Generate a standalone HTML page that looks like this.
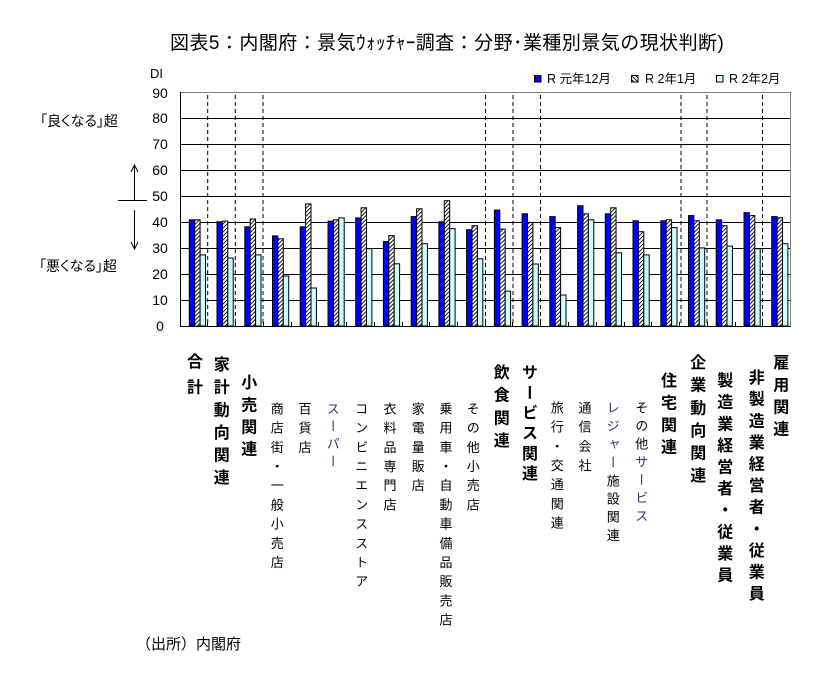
<!DOCTYPE html>
<html><head><meta charset="utf-8">
<style>
html,body{margin:0;padding:0;background:#fff;}
body{width:819px;height:683px;position:relative;overflow:hidden;font-family:"Liberation Sans","Noto Sans CJK JP",sans-serif;color:#000;}
.a{position:absolute;white-space:nowrap;}
.v{position:absolute;writing-mode:vertical-rl;font-family:"Noto Sans CJK JP","Liberation Sans",sans-serif;line-height:1;white-space:nowrap;}
.b{font-size:16px;font-weight:bold;letter-spacing:6.2px;}
.n{font-size:13px;letter-spacing:6.2px;}
.p{color:#4e2478;}
.yt{position:absolute;width:30px;left:145px;text-align:center;font-size:14px;line-height:14px;height:14px;}
</style></head><body>

<div class="a" style="left:170px;top:34px;font-size:19px;line-height:20px;letter-spacing:0.45px;font-family:'Liberation Sans','Noto Sans CJK JP',sans-serif;">図表5：内閣府：景気ｳｫｯﾁｬｰ調査：分野･業種別景気の現状判断)</div>

<div class="a" style="left:150px;top:66px;font-size:13px;line-height:15px;">DI</div>

<div class="a" style="left:40px;top:113px;font-size:14px;line-height:16px;font-feature-settings:'palt';">「良くなる」超</div>
<div class="a" style="left:39px;top:258px;font-size:14px;line-height:16px;font-feature-settings:'palt';">「悪くなる」超</div>

<div class="a" style="left:136px;top:636px;font-size:15px;line-height:17px;">（出所）内閣府</div>

<div class="a" style="left:547px;top:72px;font-size:12.5px;line-height:15px;">R 元年12月</div>
<div class="a" style="left:645px;top:72px;font-size:12.5px;line-height:15px;">R 2年1月</div>
<div class="a" style="left:729px;top:72px;font-size:12.5px;line-height:15px;">R 2年2月</div>

<div class="yt" style="top:85.5px;">90</div>
<div class="yt" style="top:111px;">80</div>
<div class="yt" style="top:137px;">70</div>
<div class="yt" style="top:163px;">60</div>
<div class="yt" style="top:189px;">50</div>
<div class="yt" style="top:215px;">40</div>
<div class="yt" style="top:241px;">30</div>
<div class="yt" style="top:267px;">20</div>
<div class="yt" style="top:293px;">10</div>
<div class="yt" style="top:319px;">0</div>

<svg width="819" height="683" style="position:absolute;left:0;top:0;" xmlns="http://www.w3.org/2000/svg">
<defs>
<pattern id="h" patternUnits="userSpaceOnUse" width="4" height="4">
<rect width="4" height="4" fill="#fff"/>
<path d="M-1,-1 L5,5 M-1,3 L1,5 M3,-1 L5,1" stroke="#000" stroke-width="0.9"/>
</pattern>
</defs>
<g stroke="#000" stroke-width="1">
<line x1="181" y1="118.5" x2="790" y2="118.5"/>
<line x1="181" y1="144.5" x2="790" y2="144.5"/>
<line x1="181" y1="170.5" x2="790" y2="170.5"/>
<line x1="181" y1="196.5" x2="790" y2="196.5"/>
<line x1="181" y1="222.5" x2="790" y2="222.5"/>
<line x1="181" y1="248.5" x2="790" y2="248.5"/>
<line x1="181" y1="274.5" x2="790" y2="274.5"/>
<line x1="181" y1="300.5" x2="790" y2="300.5"/>
</g>
<g stroke="#808080" stroke-width="1">
<line x1="180" y1="92.5" x2="791" y2="92.5"/>
<line x1="790.5" y1="92" x2="790.5" y2="327"/>
</g>
<g stroke="#000" stroke-width="1" stroke-dasharray="4,3">
<line x1="207.7" y1="95" x2="207.7" y2="326"/>
<line x1="235.3" y1="95" x2="235.3" y2="326"/>
<line x1="263" y1="95" x2="263" y2="326"/>
<line x1="485.5" y1="95" x2="485.5" y2="326"/>
<line x1="513" y1="95" x2="513" y2="326"/>
<line x1="540.5" y1="95" x2="540.5" y2="326"/>
<line x1="681" y1="95" x2="681" y2="326"/>
<line x1="707" y1="95" x2="707" y2="326"/>
<line x1="762.5" y1="95" x2="762.5" y2="326"/>
</g>
<g transform="translate(0 326) scale(1 -1)" stroke="#000" stroke-width="1">
<g transform="translate(189.3 0)"><rect x="0" y="0" width="5.4" height="106.2" fill="#0000ff"/><rect x="5.4" y="0" width="5.4" height="106.2" fill="url(#h)"/><rect x="10.8" y="0" width="5.4" height="71.1" fill="#ccffff"/></g>
<g transform="translate(217.0 0)"><rect x="0" y="0" width="5.4" height="104.2" fill="#0000ff"/><rect x="5.4" y="0" width="5.4" height="104.9" fill="url(#h)"/><rect x="10.8" y="0" width="5.4" height="68.0" fill="#ccffff"/></g>
<g transform="translate(244.8 0)"><rect x="0" y="0" width="5.4" height="99.2" fill="#0000ff"/><rect x="5.4" y="0" width="5.4" height="107.0" fill="url(#h)"/><rect x="10.8" y="0" width="5.4" height="71.1" fill="#ccffff"/></g>
<g transform="translate(272.5 0)"><rect x="0" y="0" width="5.4" height="90.1" fill="#0000ff"/><rect x="5.4" y="0" width="5.4" height="87.2" fill="url(#h)"/><rect x="10.8" y="0" width="5.4" height="50.0" fill="#ccffff"/></g>
<g transform="translate(300.2 0)"><rect x="0" y="0" width="5.4" height="99.2" fill="#0000ff"/><rect x="5.4" y="0" width="5.4" height="122.1" fill="url(#h)"/><rect x="10.8" y="0" width="5.4" height="38.0" fill="#ccffff"/></g>
<g transform="translate(328.0 0)"><rect x="0" y="0" width="5.4" height="104.9" fill="#0000ff"/><rect x="5.4" y="0" width="5.4" height="106.2" fill="url(#h)"/><rect x="10.8" y="0" width="5.4" height="108.1" fill="#ccffff"/></g>
<g transform="translate(355.7 0)"><rect x="0" y="0" width="5.4" height="108.1" fill="#0000ff"/><rect x="5.4" y="0" width="5.4" height="118.2" fill="url(#h)"/><rect x="10.8" y="0" width="5.4" height="77.3" fill="#ccffff"/></g>
<g transform="translate(383.4 0)"><rect x="0" y="0" width="5.4" height="84.4" fill="#0000ff"/><rect x="5.4" y="0" width="5.4" height="90.4" fill="url(#h)"/><rect x="10.8" y="0" width="5.4" height="62.2" fill="#ccffff"/></g>
<g transform="translate(411.2 0)"><rect x="0" y="0" width="5.4" height="109.4" fill="#0000ff"/><rect x="5.4" y="0" width="5.4" height="117.2" fill="url(#h)"/><rect x="10.8" y="0" width="5.4" height="82.3" fill="#ccffff"/></g>
<g transform="translate(438.9 0)"><rect x="0" y="0" width="5.4" height="104.2" fill="#0000ff"/><rect x="5.4" y="0" width="5.4" height="125.3" fill="url(#h)"/><rect x="10.8" y="0" width="5.4" height="97.4" fill="#ccffff"/></g>
<g transform="translate(466.6 0)"><rect x="0" y="0" width="5.4" height="96.3" fill="#0000ff"/><rect x="5.4" y="0" width="5.4" height="100.3" fill="url(#h)"/><rect x="10.8" y="0" width="5.4" height="67.2" fill="#ccffff"/></g>
<g transform="translate(494.4 0)"><rect x="0" y="0" width="5.4" height="115.9" fill="#0000ff"/><rect x="5.4" y="0" width="5.4" height="96.9" fill="url(#h)"/><rect x="10.8" y="0" width="5.4" height="34.9" fill="#ccffff"/></g>
<g transform="translate(522.1 0)"><rect x="0" y="0" width="5.4" height="112.2" fill="#0000ff"/><rect x="5.4" y="0" width="5.4" height="103.6" fill="url(#h)"/><rect x="10.8" y="0" width="5.4" height="62.0" fill="#ccffff"/></g>
<g transform="translate(549.8 0)"><rect x="0" y="0" width="5.4" height="109.4" fill="#0000ff"/><rect x="5.4" y="0" width="5.4" height="98.4" fill="url(#h)"/><rect x="10.8" y="0" width="5.4" height="31.0" fill="#ccffff"/></g>
<g transform="translate(577.6 0)"><rect x="0" y="0" width="5.4" height="120.3" fill="#0000ff"/><rect x="5.4" y="0" width="5.4" height="112.2" fill="url(#h)"/><rect x="10.8" y="0" width="5.4" height="106.2" fill="#ccffff"/></g>
<g transform="translate(605.3 0)"><rect x="0" y="0" width="5.4" height="112.2" fill="#0000ff"/><rect x="5.4" y="0" width="5.4" height="118.2" fill="url(#h)"/><rect x="10.8" y="0" width="5.4" height="73.2" fill="#ccffff"/></g>
<g transform="translate(633.0 0)"><rect x="0" y="0" width="5.4" height="105.2" fill="#0000ff"/><rect x="5.4" y="0" width="5.4" height="94.3" fill="url(#h)"/><rect x="10.8" y="0" width="5.4" height="71.1" fill="#ccffff"/></g>
<g transform="translate(660.8 0)"><rect x="0" y="0" width="5.4" height="105.2" fill="#0000ff"/><rect x="5.4" y="0" width="5.4" height="106.2" fill="url(#h)"/><rect x="10.8" y="0" width="5.4" height="98.4" fill="#ccffff"/></g>
<g transform="translate(688.5 0)"><rect x="0" y="0" width="5.4" height="110.4" fill="#0000ff"/><rect x="5.4" y="0" width="5.4" height="105.2" fill="url(#h)"/><rect x="10.8" y="0" width="5.4" height="78.1" fill="#ccffff"/></g>
<g transform="translate(716.2 0)"><rect x="0" y="0" width="5.4" height="106.2" fill="#0000ff"/><rect x="5.4" y="0" width="5.4" height="100.3" fill="url(#h)"/><rect x="10.8" y="0" width="5.4" height="79.9" fill="#ccffff"/></g>
<g transform="translate(744.0 0)"><rect x="0" y="0" width="5.4" height="113.3" fill="#0000ff"/><rect x="5.4" y="0" width="5.4" height="110.4" fill="url(#h)"/><rect x="10.8" y="0" width="5.4" height="77.3" fill="#ccffff"/></g>
<g transform="translate(771.7 0)"><rect x="0" y="0" width="5.4" height="109.4" fill="#0000ff"/><rect x="5.4" y="0" width="5.4" height="108.3" fill="url(#h)"/><rect x="10.8" y="0" width="5.4" height="82.3" fill="#ccffff"/></g>
</g>
<g stroke="#000" stroke-width="1">
<line x1="180.5" y1="92" x2="180.5" y2="327"/>
<line x1="180" y1="326.5" x2="791" y2="326.5"/>
<path d="M207.5,322V326 M235.5,322V326 M263.5,322V326 M291.5,322V326 M318.5,322V326 M346.5,322V326 M374.5,322V326 M402.5,322V326 M429.5,322V326 M457.5,322V326 M485.5,322V326 M512.5,322V326 M540.5,322V326 M568.5,322V326 M596.5,322V326 M624.5,322V326 M651.5,322V326 M679.5,322V326 M707.5,322V326 M735.5,322V326 M762.5,322V326"/>
</g>
<g stroke="#000" stroke-width="1" fill="none">
<line x1="134.5" y1="165" x2="134.5" y2="200"/>
<polyline points="131,172 134.5,165 138,172"/>
<line x1="118" y1="200.5" x2="147" y2="200.5"/>
<line x1="134.5" y1="210" x2="134.5" y2="249"/>
<polyline points="131,242 134.5,249 138,242"/>
</g>
<rect x="534.5" y="75.5" width="6.5" height="6.5" fill="#0000ff" stroke="#000"/>
<rect x="631.5" y="75.5" width="6.5" height="6.5" fill="url(#h)" stroke="#000"/>
<rect x="716.5" y="75.5" width="6.5" height="6.5" fill="#ccffff" stroke="#000"/>
</svg>

<div class="v b" style="left:187px;top:353px;letter-spacing:9.5px;">合計</div>
<div class="v b" style="left:213.7px;top:356px;letter-spacing:6.6px;">家計動向関連</div>
<div class="v b" style="left:241.2px;top:374px;">小売関連</div>
<div class="v n" style="left:270.8px;top:401.5px;">商店街・一般小売店</div>
<div class="v n" style="left:298.5px;top:401.5px;">百貨店</div>
<div class="v n p" style="left:326.8px;top:401.5px;letter-spacing:4.5px;">スーパー</div>
<div class="v n" style="left:355.2px;top:401.5px;">コンビニエンスストア</div>
<div class="v n" style="left:383.5px;top:401.5px;">衣料品専門店</div>
<div class="v n" style="left:411.8px;top:401.5px;">家電量販店</div>
<div class="v n" style="left:439.5px;top:401.5px;">乗用車・自動車備品販売店</div>
<div class="v n" style="left:466.8px;top:401.5px;">その他小売店</div>
<div class="v b" style="left:493.7px;top:364px;letter-spacing:6.6px;">飲食関連</div>
<div class="v b" style="left:522px;top:364px;letter-spacing:4.2px;">サービス関連</div>
<div class="v n" style="left:550.8px;top:400.5px;">旅行・交通関連</div>
<div class="v n" style="left:578.5px;top:400.5px;">通信会社</div>
<div class="v n" style="left:606.8px;top:400.5px;letter-spacing:5.2px;"><span class="p">レジャー</span>施設関連</div>
<div class="v n" style="left:635.2px;top:400.5px;letter-spacing:5px;">その他<span class="p">サービス</span></div>
<div class="v b" style="left:661px;top:372px;">住宅関連</div>
<div class="v b" style="left:690.3px;top:354px;letter-spacing:6.6px;">企業動向関連</div>
<div class="v b" style="left:717.3px;top:372px;letter-spacing:5.6px;">製造業経営者・従業員</div>
<div class="v b" style="left:748.7px;top:369px;letter-spacing:5.6px;">非製造業経営者・従業員</div>
<div class="v b" style="left:773.3px;top:354px;">雇用関連</div>

</body></html>
